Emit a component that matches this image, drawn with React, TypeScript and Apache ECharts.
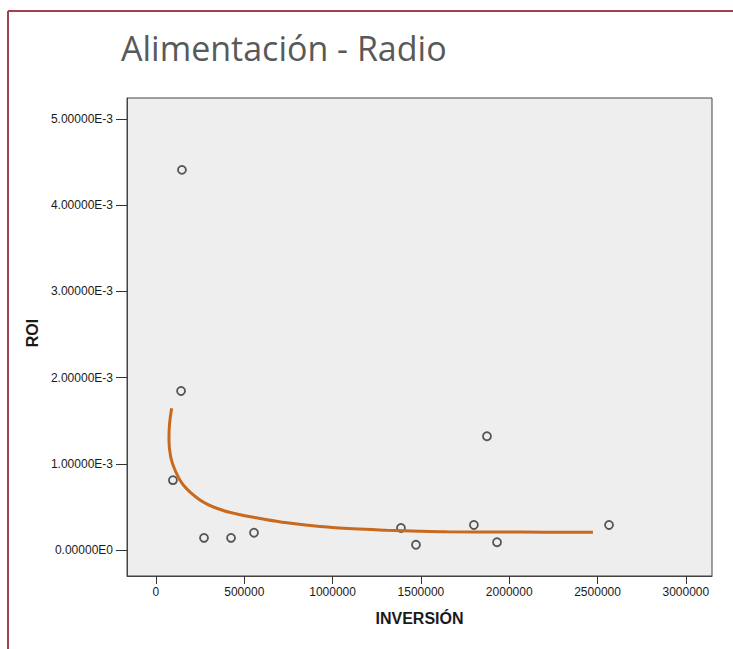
import React, { useEffect, useRef } from "react";
import * as echarts from "echarts";

const titleText = "Alimentación - Radio";
const xAxisName = "INVERSIÓN";
const yAxisName = "ROI";

const xTickValues = [0, 500000, 1000000, 1500000, 2000000, 2500000, 3000000];
const xTickLabels = ["0", "500000", "1000000", "1500000", "2000000", "2500000", "3000000"];
const yTickValues = [0, 0.001, 0.002, 0.003, 0.004, 0.005];
const yTickLabels = ["0.00000E0", "1.00000E-3", "2.00000E-3", "3.00000E-3", "4.00000E-3", "5.00000E-3"];

// observed points: inversión, ROI
const inversion = [147000, 142000, 96000, 272000, 425000, 555000, 1387000, 1472000, 1800000, 1874000, 1931000, 2565000];
const roi = [0.00441, 0.001845, 0.00081, 0.00014, 0.00014, 0.0002, 0.000255, 0.00006, 0.00029, 0.00132, 0.00009, 0.00029];

// fitted curve
const curveX = [88900, 76400, 73600, 83200, 107600, 154600, 249200, 343700, 457000, 588900, 741800, 928600, 1115500, 1308000, 1495000, 1646000, 1948000, 2200000, 2474000];
const curveY = [0.001644, 0.00145, 0.001276, 0.001082, 0.000928, 0.000754, 0.00058, 0.000484, 0.000418, 0.000366, 0.000315, 0.000272, 0.000245, 0.000229, 0.000218, 0.000212, 0.000208, 0.000207, 0.000207];

export default function App() {
  const ref = useRef<HTMLDivElement>(null);
  useEffect(() => {
    if (!ref.current) return;
    const chart = echarts.init(ref.current, null, { renderer: "svg" });
    const axisText = { fontFamily: "Liberation Sans", fontSize: 12, color: "#1a1a1a" };
    chart.setOption({
      animation: false,
      backgroundColor: "#ffffff",
      title: {
        text: titleText,
        left: 116,
        top: 26,
        textStyle: { fontFamily: "Open Sans", fontSize: 34, fontWeight: "normal", color: "#595959" },
      },
      graphic: [
        { type: "line", shape: { x1: 8, y1: 11, x2: 733, y2: 11 }, style: { stroke: "#a3404f", lineWidth: 2 } },
        { type: "line", shape: { x1: 8, y1: 11, x2: 8, y2: 649 }, style: { stroke: "#a3404f", lineWidth: 2 } },
      ],
      grid: {
        left: 127,
        top: 98,
        width: 585,
        height: 478,
        show: true,
        backgroundColor: "#eeeeee",
        borderColor: "#444444",
        borderWidth: 1,
      },
      xAxis: {
        type: "value",
        min: -164000,
        max: 3148000,
        name: xAxisName,
        nameLocation: "middle",
        nameGap: 34,
        nameTextStyle: { fontFamily: "Liberation Sans", fontSize: 16, fontWeight: "bold", color: "#1a1a1a" },
        axisLine: { show: true, onZero: false, lineStyle: { color: "#444" } },
        axisTick: { show: true, customValues: xTickValues, length: 8, lineStyle: { color: "#333" } },
        axisLabel: {
          ...axisText,
          customValues: xTickValues,
          margin: 10,
          formatter: (v: number) => {
            const i = xTickValues.indexOf(v);
            return i >= 0 ? xTickLabels[i] : "";
          },
        },
        splitLine: { show: false },
      },
      yAxis: {
        type: "value",
        min: -0.000302,
        max: 0.005244,
        name: yAxisName,
        nameLocation: "middle",
        nameGap: 84,
        nameTextStyle: { fontFamily: "Liberation Sans", fontSize: 16, fontWeight: "bold", color: "#1a1a1a", padding: [0, 0, 0, 8] },
        axisLine: { show: true, onZero: false, lineStyle: { color: "#444" } },
        axisTick: { show: true, customValues: yTickValues, length: 11, lineStyle: { color: "#333" } },
        axisLabel: {
          ...axisText,
          customValues: yTickValues,
          margin: 14,
          formatter: (v: number) => {
            let best = 0;
            yTickValues.forEach((t, i) => {
              if (Math.abs(t - v) < Math.abs(yTickValues[best] - v)) best = i;
            });
            return yTickLabels[best];
          },
        },
        splitLine: { show: false },
      },
      series: [
        {
          type: "scatter",
          data: inversion.map((x, i) => [x, roi[i]]),
          symbol: "circle",
          symbolSize: 8,
          itemStyle: { color: "#eeeeee", borderColor: "#2e2e2e", borderWidth: 1.8 },
          z: 2,
        },
        {
          type: "line",
          data: curveX.map((x, i) => [x, curveY[i]]),
          showSymbol: false,
          smooth: 0.4,
          lineStyle: { color: "#c8691e", width: 3 },
          z: 3,
        },
      ],
    });
    return () => chart.dispose();
  }, []);
  return <div ref={ref} style={{ position: "fixed", left: 0, top: 0, width: 733, height: 649 }} />;
}
